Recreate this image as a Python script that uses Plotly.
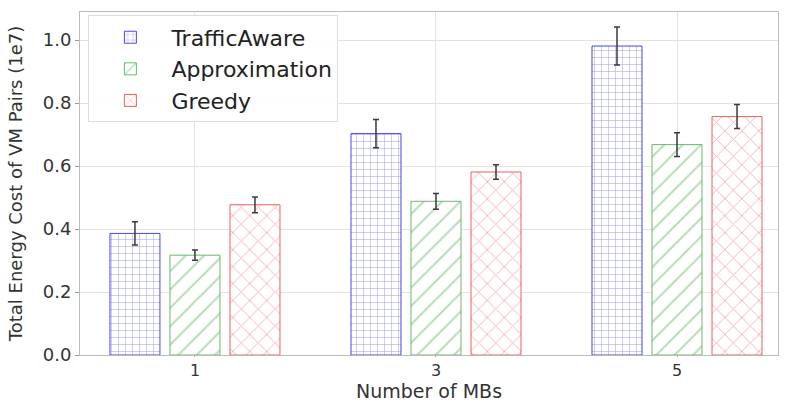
import plotly.graph_objects as go

# Grouped bar data (values in units of 1e7)
groups = ["1", "3", "5"]
series_names = ["TrafficAware", "Approximation", "Greedy"]
traffic_aware = [0.386, 0.703, 0.981]
approximation = [0.317, 0.488, 0.668]
greedy = [0.477, 0.581, 0.757]
traffic_aware_err = [0.037, 0.045, 0.060]
approximation_err = [0.016, 0.025, 0.038]
greedy_err = [0.025, 0.023, 0.038]

values = [traffic_aware, approximation, greedy]
errors = [traffic_aware_err, approximation_err, greedy_err]
edge_colors = ["rgba(60,60,235,0.95)", "rgba(100,180,100,0.95)", "rgba(232,90,90,0.95)"]
hatches = ["+", "/", "x"]
hatch_sizes = [7, 13, 12]

x_pos = list(range(len(groups)))

fig = go.Figure()
for name, vals, errs, col, sh, sz in zip(series_names, values, errors, edge_colors, hatches, hatch_sizes):
    fig.add_trace(go.Bar(
        x=x_pos, y=vals, name=name,
        marker=dict(
            color="white",
            line=dict(color=col, width=1),
            pattern=dict(shape=sh, fgcolor=col, bgcolor="white", size=sz, solidity=0.15, fillmode="overlay"),
        ),
        error_y=dict(type="data", array=errs, color="#3a3a3a", thickness=1.5, width=3),
    ))

font = "DejaVu Sans, Liberation Sans, sans-serif"
fig.update_layout(
    width=786, height=402,
    margin=dict(l=80, r=8, t=12, b=47),
    paper_bgcolor="white", plot_bgcolor="white",
    barmode="group", bargap=0.253, bargroupgap=0.167,
    font=dict(family=font, color="#333333"),
    showlegend=True,
    legend=dict(
        x=0.012, y=0.99, xanchor="left", yanchor="top",
        bgcolor="rgba(255,255,255,0.9)", bordercolor="#dddddd", borderwidth=1,
        font=dict(size=22, family=font, color="#222222"),
        itemwidth=72, tracegroupgap=0,
    ),
    # x-axis title placed just below the tick labels
    annotations=[dict(
        text="Number of MBs", xref="paper", yref="paper", x=0.5, y=0,
        xanchor="center", yanchor="middle", yshift=-36, showarrow=False,
        font=dict(size=19, family=font, color="#333333"),
    )],
)
fig.update_xaxes(
    range=[-0.477, 2.419], tickvals=x_pos, ticktext=groups,
    showgrid=True, gridcolor="#e3e3e3", gridwidth=1,
    showline=True, linecolor="#bbbbbb", mirror=True,
    ticks="outside", ticklen=1, tickcolor="#999999",
    tickfont=dict(size=16, color="#333333"),
    zeroline=False, automargin=False,
)
fig.update_yaxes(
    range=[0, 1.089], tickvals=[0, 0.2, 0.4, 0.6, 0.8, 1.0],
    ticktext=["0.0", "0.2", "0.4", "0.6", "0.8", "1.0"],
    showgrid=True, gridcolor="#e3e3e3", gridwidth=1,
    showline=True, linecolor="#bbbbbb", mirror=True,
    ticks="outside", ticklen=4, tickcolor="#999999",
    tickfont=dict(size=18, color="#333333"),
    title=dict(text="Total Energy Cost of VM Pairs (1e7)", font=dict(size=18, color="#333333")),
    zeroline=False, automargin=False,
)

fig.write_html("out.html")
